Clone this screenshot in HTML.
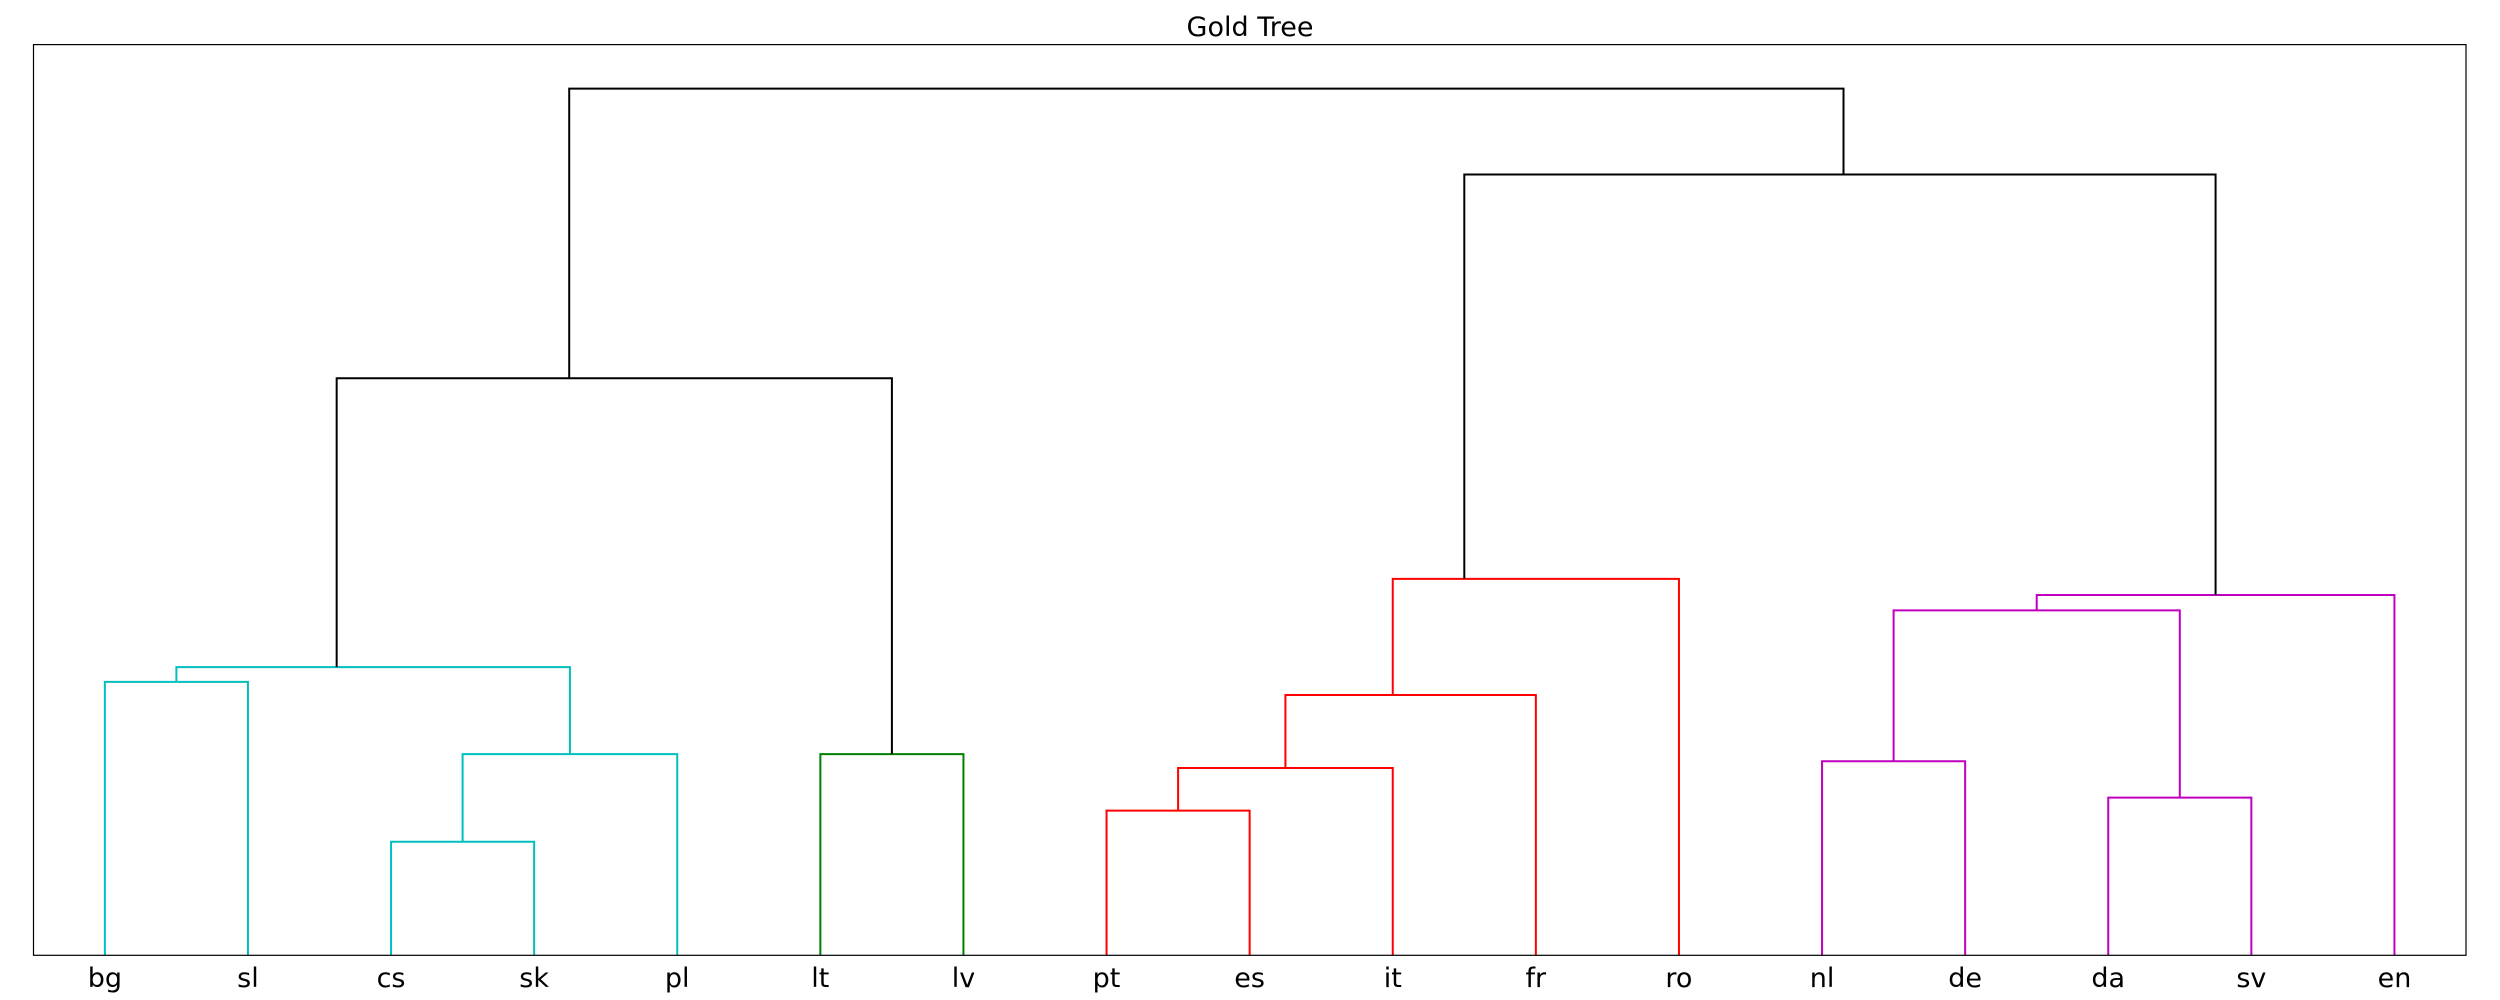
<!DOCTYPE html>
<html><head><meta charset="utf-8"><style>
html,body{margin:0;padding:0;background:#fff;}
svg{display:block;font-family:"DejaVu Sans","Liberation Sans",sans-serif;}
</style></head><body>
<svg id="chart" width="2500" height="1000" viewBox="0 0 2500 1000" xmlns="http://www.w3.org/2000/svg">
<rect x="0" y="0" width="2500" height="1000" fill="#fff"/>
<text x="1250" y="36" font-size="27" text-anchor="middle" fill="#000">Gold Tree</text>
<g id="links"></g>
<g id="labels"></g>
<rect x="33.5" y="44.6" width="2432.5" height="910.7" fill="none" stroke="#000" stroke-width="1.2"/>
</svg>
<script>
// leaf labels
const leaves = ["bg","sl","cs","sk","pl","lt","lv","pt","es","it","fr","ro","nl","de","da","sv","en"];
// link coordinates (leaf-index units and height units)
const linkXLeft   = [0, 2, 2.5, 0.5, 5, 1.62, 7, 7.5, 8.25, 9, 12, 14, 12.5, 13.5, 9.5, 3.245];
const linkXRight  = [1, 3, 4, 3.25, 6, 5.5, 8, 9, 10, 11, 13, 15, 14.5, 16, 14.75, 12.15];
const linkYLeft   = [0, 0, 12.47, 30.02, 0, 31.64, 0, 15.88, 20.57, 28.58, 0, 0, 21.31, 37.88, 41.34, 63.36];
const linkYRight  = [0, 0, 0, 22.09, 0, 22.09, 0, 0, 0, 0, 0, 0, 17.32, 0, 39.56, 85.74];
const linkYTop    = [30.02, 12.47, 22.09, 31.64, 22.09, 63.36, 15.88, 20.57, 28.58, 41.34, 21.31, 17.32, 37.88, 39.56, 85.74, 95.16];
const linkColor   = ["#00bfbf","#00bfbf","#00bfbf","#00bfbf","#008000","#000000","#ff0000","#ff0000","#ff0000","#ff0000","#bf00bf","#bf00bf","#bf00bf","#bf00bf","#000000","#000000"];

const X0 = 33.3, STEP = 143.1, Y0 = 955.3, YSCALE = 9.107;
function xs(u){ return X0 + (u + 0.5) * STEP; }
function ys(v){ return Y0 - v * YSCALE; }

const NS = "http://www.w3.org/2000/svg";
const gl = document.getElementById("links");
for (let i = 0; i < linkXLeft.length; i++) {
  const p = document.createElementNS(NS, "polyline");
  const pts = [
    [xs(linkXLeft[i]), ys(linkYLeft[i])],
    [xs(linkXLeft[i]), ys(linkYTop[i])],
    [xs(linkXRight[i]), ys(linkYTop[i])],
    [xs(linkXRight[i]), ys(linkYRight[i])]
  ];
  p.setAttribute("points", pts.map(q => q.join(",")).join(" "));
  p.setAttribute("fill", "none");
  p.setAttribute("stroke", linkColor[i]);
  p.setAttribute("stroke-width", "2");
  
  
  gl.appendChild(p);
}
const glab = document.getElementById("labels");
for (let i = 0; i < leaves.length; i++) {
  const t = document.createElementNS(NS, "text");
  t.setAttribute("x", xs(i));
  t.setAttribute("y", 987);
  t.setAttribute("font-size", "27");
  t.setAttribute("text-anchor", "middle");
  t.textContent = leaves[i];
  
  
  glab.appendChild(t);
}
</script>
</body></html>
